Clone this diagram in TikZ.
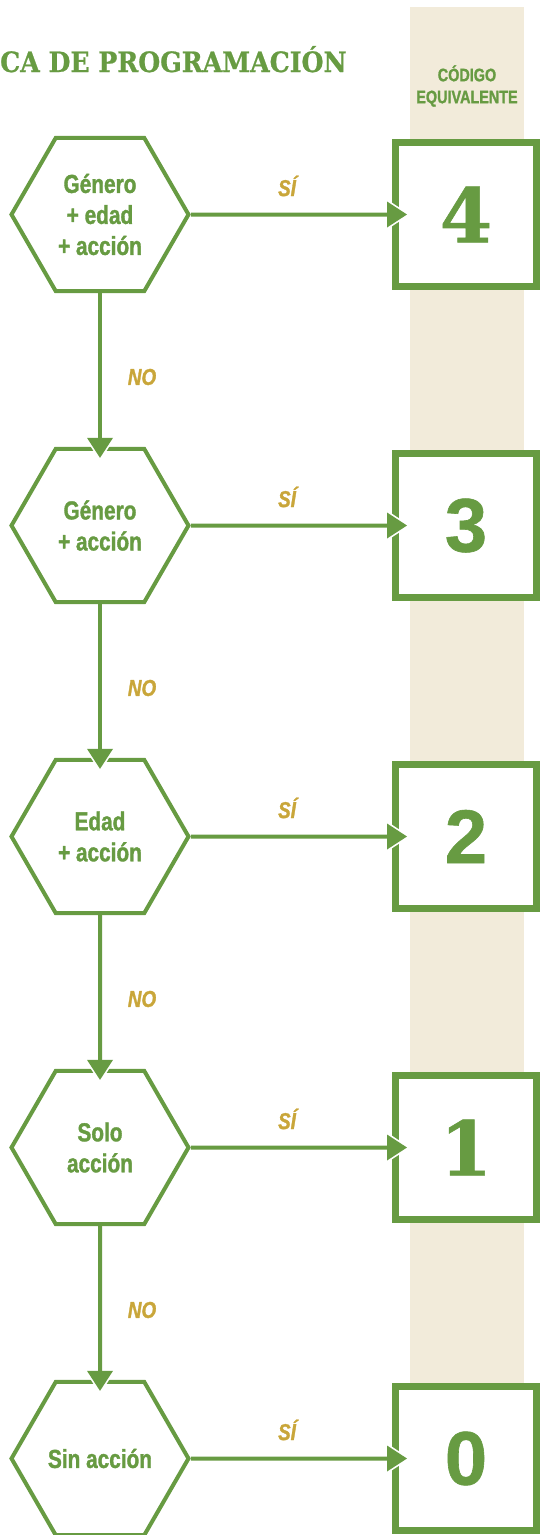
\documentclass[tikz,border=0pt]{standalone}
\usepackage{fontspec}
\usetikzlibrary{shapes.geometric,arrows.meta}
\newfontfamily\condfont[FakeStretch=0.8,FakeBold=1.3]{Liberation Sans Bold}
\newfontfamily\condital[FakeStretch=0.82,FakeBold=1.3]{Liberation Sans Bold Italic}
\newfontfamily\slabfont[FakeStretch=0.9,FakeBold=0.8]{DejaVu Serif Bold}
\newfontfamily\slabdig[FakeBold=0.8]{DejaVu Serif Bold}
\newfontfamily\digitsans[FakeBold=0.8]{Liberation Sans Bold}
\definecolor{leaf}{HTML}{679B42}
\definecolor{gold}{HTML}{C9A63A}
\definecolor{sand}{HTML}{F2EBDA}
\begin{document}
\begin{tikzpicture}[x=1pt,y=-1pt,
  hexnode/.style={regular polygon, regular polygon sides=6, minimum size=177pt, inner sep=0pt,
    draw=leaf, line width=4pt, fill=white, text=leaf,
    font=\condfont\fontsize{26}{31}\selectfont, align=center},
  codebox/.style={rectangle, draw=leaf, line width=7pt, fill=white, minimum width=141pt,
    minimum height=144pt, inner sep=0pt, text=leaf},
  slabdigit/.style={font=\slabdig\fontsize{75}{75}\selectfont},
  sansdigit/.style={font=\digitsans\fontsize{76}{76}\selectfont},
  yeslabel/.style={text=gold, font=\condital\fontsize{23}{23}\selectfont, inner sep=0pt},
  halo/.style={draw=white, line width=4pt, -{Triangle[length=26pt,width=34pt,line width=0pt]}},
  flow/.style={draw=leaf, line width=4pt, -{Triangle[length=20pt,width=26pt,line width=0pt]}},
]
\useasboundingbox (0,0) rectangle (539,1535);
\fill[sand] (410,7) rectangle (524,1460);

\node[anchor=base west, text=leaf, inner sep=0pt,
  font=\slabfont\fontsize{28}{28}\selectfont] (title) at (0,72) {CA DE PROGRAMACIÓN};
\node[text=leaf, inner sep=0pt, align=center,
  font=\condfont\fontsize{18}{22}\selectfont] (hdr) at (467,86) {CÓDIGO\\EQUIVALENTE};

% boxes
\node[codebox, slabdigit] (b0) at (466,214.5) {4};
\node[codebox, sansdigit] (b1) at (466,525.5) {3};
\node[codebox, sansdigit] (b2) at (466,836.5) {2};
\node[codebox, slabdigit] (b3) at (466,1147.5) {1};
\node[codebox, sansdigit] (b4) at (466,1458.5) {0};

% hexagons
\node[hexnode] (h0) at (100,214.5) {Género\\+ edad\\+ acción};
\node[hexnode] (h1) at (100,525.5) {Género\\+ acción};
\node[hexnode] (h2) at (100,836.5) {Edad\\+ acción};
\node[hexnode] (h3) at (100,1147.5) {Solo\\acción};
\node[hexnode] (h4) at (100,1458.5) {Sin acción};

% connectors
\foreach \i in {0,...,4}{
  \draw[halo, shorten >=-18pt] (h\i.east) -- (b\i.west);
  \draw[flow, shorten >=-15pt] (h\i.east) -- (b\i.west);
}
\foreach \i/\j in {0/1,1/2,2/3,3/4}{
  \draw[halo, shorten >=-14pt] (h\i.south) -- (h\j.north);
  \draw[flow, shorten >=-11pt] (h\i.south) -- (h\j.north);
}

% labels
\node[yeslabel] (s0) at (287,186) {SÍ};
\node[yeslabel] (s1) at (287,497) {SÍ};
\node[yeslabel] (s2) at (287,808) {SÍ};
\node[yeslabel] (s3) at (287,1119) {SÍ};
\node[yeslabel] (s4) at (287,1430) {SÍ};
\node[yeslabel] (n0) at (142,377) {NO};
\node[yeslabel] (n1) at (142,688) {NO};
\node[yeslabel] (n2) at (142,999) {NO};
\node[yeslabel] (n3) at (142,1310) {NO};
\end{tikzpicture}
\end{document}
